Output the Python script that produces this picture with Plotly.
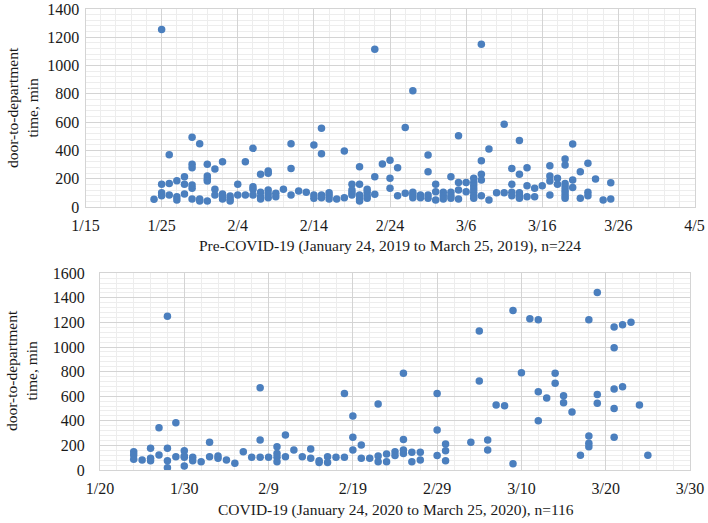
import plotly.graph_objects as go
import pandas as pd

# ---------------- data ----------------
pre_days = ["1/24", "1/25", "1/26", "1/27", "1/28", "1/29", "1/30", "1/31", "2/1", "2/2",
            "2/3", "2/4", "2/5", "2/6", "2/7", "2/8", "2/9", "2/10", "2/11", "2/12",
            "2/13", "2/14", "2/15", "2/16", "2/17", "2/18", "2/19", "2/20", "2/21", "2/22",
            "2/23", "2/24", "2/25", "2/26", "2/27", "2/28", "3/1", "3/2", "3/3", "3/4",
            "3/5", "3/6", "3/7", "3/8", "3/9", "3/10", "3/11", "3/12", "3/13", "3/14",
            "3/15", "3/16", "3/17", "3/18", "3/19", "3/20", "3/21", "3/22", "3/23", "3/24",
            "3/25"]
pre_values = [[54], [1255, 160, 101, 80], [370, 167, 85], [186, 73, 50], [214, 160, 92],
              [493, 302, 278, 155, 132, 57], [448, 57, 42], [302, 219, 198, 184, 42],
              [269, 125, 85], [320, 92, 73, 57],
              [78, 57, 42], [160, 85], [320, 85], [415, 144, 125, 85], [231, 104, 73, 57],
              [255, 238, 120, 92, 66], [97, 73], [125], [448, 273, 85], [113],
              [104], [438, 85, 61], [556, 377, 85, 66], [101, 80, 57], [57], [396, 66],
              [160, 120, 101, 85], [285, 160, 85, 57, 42], [125, 104, 80, 61], [1115, 214, 90],
              [304], [330, 203, 132], [278, 80], [563, 97], [822, 104, 85, 66], [85, 66],
              [368, 250, 85, 61], [160, 108, 50], [104, 80, 57], [214, 104, 80, 61],
              [504, 174, 120, 57], [174, 108], [203, 174, 151, 127, 104, 80, 61],
              [1150, 327, 231, 191, 80], [410, 50], [101], [585, 101], [273, 160, 104, 80],
              [471, 231, 101, 80, 61], [278, 151, 73],
              [132, 73], [151], [292, 219, 184, 85], [203, 160],
              [339, 297, 167, 144, 120, 101, 80, 61], [445, 191, 137], [250, 61],
              [309, 104, 80], [198], [50],
              [172, 57]]

covid_days = ["1/24", "1/25", "1/26", "1/27", "1/28", "1/29", "1/30", "1/31", "2/1", "2/2",
              "2/3", "2/4", "2/5", "2/6", "2/7", "2/8", "2/9", "2/10", "2/11", "2/12",
              "2/13", "2/14", "2/15", "2/16", "2/17", "2/18", "2/19", "2/20", "2/21", "2/22",
              "2/23", "2/24", "2/25", "2/26", "2/27", "2/29", "3/1", "3/4", "3/5", "3/6",
              "3/7", "3/8", "3/9", "3/10", "3/11", "3/12", "3/13", "3/14", "3/15", "3/16",
              "3/17", "3/18", "3/19", "3/21", "3/22", "3/23", "3/24", "3/25"]
covid_values = [[149, 122, 87], [81], [176, 95, 76], [344, 122], [1250, 176, 76, 19],
                [385, 108], [157, 114, 103, 33], [103, 76], [68], [225, 108],
                [114, 95], [81], [54], [149], [103], [669, 244, 103], [103],
                [190, 135, 103, 68], [285, 108], [163],
                [108], [171, 95], [76, 60], [108, 60], [103], [623, 103], [439, 266, 163],
                [203, 95], [95], [537, 114, 68],
                [130, 68], [149, 117], [786, 249, 163, 135], [144, 68], [144, 81],
                [623, 325, 117], [211, 157, 76], [225], [1130, 724], [244, 163],
                [528], [523], [1298, 51], [791], [1230], [1222, 637, 401], [585], [786, 705],
                [604, 547], [472],
                [119], [1222, 276, 217, 190], [1444, 615, 542], [1163, 995, 659, 501, 266],
                [1182, 678], [1201], [528], [119]]

pre_title = "Pre-COVID-19 (January 24, 2019 to March 25, 2019), n=224"
covid_title = "COVID-19 (January 24, 2020 to March 25, 2020), n=116"
y_title = "door-to-department<br>time, min"


def expand(days, groups, year):
    xs, ys = [], []
    for d, vals in zip(days, groups):
        m, dd = d.split("/")
        for v in vals:
            xs.append(pd.Timestamp(year=year, month=int(m), day=int(dd)))
            ys.append(v)
    return xs, ys


px_, py_ = expand(pre_days, pre_values, 2019)
cx_, cy_ = expand(covid_days, covid_values, 2020)

W, H = 708, 523
BLUE = "#4B7FBE"
FONT = "'Liberation Serif', 'Times New Roman', Times, serif"
MAJOR = "#D4D4D4"
MINOR = "#EDEDED"
DAY = 86400000
TXT = "#1a1a1a"
TICK_SIZE = 16
TITLE_SIZE = 15.5

fig = go.Figure()
fig.add_trace(go.Scatter(x=px_, y=py_, mode="markers", xaxis="x", yaxis="y",
                         marker=dict(color=BLUE, size=7.5, line=dict(width=0)),
                         showlegend=False))
fig.add_trace(go.Scatter(x=cx_, y=cy_, mode="markers", xaxis="x2", yaxis="y2",
                         marker=dict(color=BLUE, size=7.5, line=dict(width=0)),
                         showlegend=False))


def xax(domain, anchor, start, end):
    return dict(domain=domain, anchor=anchor, type="date", automargin=False,
                range=[start, end], tick0=start, dtick=10 * DAY,
                tickformat="%-m/%-d", showgrid=True, gridcolor=MAJOR, gridwidth=1,
                minor=dict(dtick=2 * DAY, tick0=start, showgrid=True, gridcolor=MINOR),
                showline=True, linecolor=MAJOR, mirror=True, zeroline=False,
                ticks="outside", ticklen=4, tickcolor="rgba(0,0,0,0)",
                tickfont=dict(family=FONT, size=TICK_SIZE, color=TXT), fixedrange=True)


def yax(domain, anchor, top, standoff):
    return dict(domain=domain, anchor=anchor, range=[0, top], dtick=200, automargin=False,
                showgrid=True, gridcolor=MAJOR, gridwidth=1,
                minor=dict(dtick=40, showgrid=True, gridcolor=MINOR),
                showline=True, linecolor=MAJOR, mirror=True, zeroline=False,
                ticks="outside", ticklen=standoff, tickcolor="rgba(0,0,0,0)",
                tickfont=dict(family=FONT, size=TICK_SIZE, color=TXT), fixedrange=True)


def note(text, x, y, angle=0):
    return dict(text=text, x=x / W, y=(H - y) / H, xref="paper", yref="paper",
                showarrow=False, xanchor="center", yanchor="middle", textangle=angle,
                font=dict(family=FONT, size=TITLE_SIZE, color=TXT))


fig.update_layout(
    width=W, height=H, autosize=False,
    margin=dict(l=0, r=0, t=0, b=0, autoexpand=False),
    paper_bgcolor="white", plot_bgcolor="white",
    xaxis=xax([85.5 / W, 694.5 / W], "y", "2019-01-15", "2019-04-05"),
    yaxis=yax([(H - 207) / H, (H - 9) / H], "x", 1400, 2),
    xaxis2=xax([100 / W, 690 / W], "y2", "2020-01-20", "2020-03-30"),
    yaxis2=yax([(H - 470) / H, (H - 273.3) / H], "x2", 1600, 11),
    annotations=[
        note(pre_title, 390, 246),
        note(covid_title, 396, 510),
        note(y_title, 22, 108, -90),
        note(y_title, 22, 371, -90),
    ],
)

fig.write_html("out.html", config={"displayModeBar": False},
               post_script="document.body.style.margin='0';document.body.style.padding='0';")
